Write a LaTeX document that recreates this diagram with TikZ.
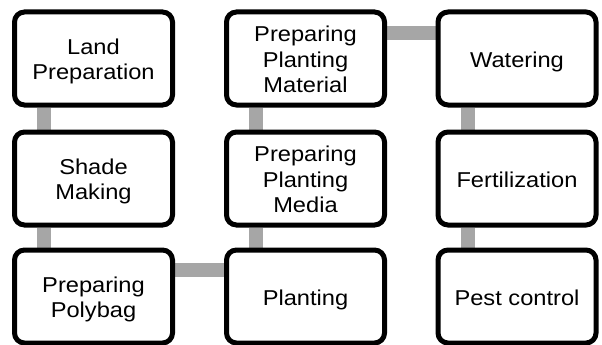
\documentclass[tikz,border=0pt]{standalone}
\usepackage{fontspec}
\usepackage{graphicx}
\setmainfont{Liberation Sans}
\usetikzlibrary{backgrounds}
\newcommand{\boxtext}[1]{\raisebox{-3.5pt}[\height][\depth]{\scalebox{1.1}[1]{\begin{tabular}{@{}c@{}}#1\end{tabular}}}}
\begin{document}
\begin{tikzpicture}[x=1pt,y=-1pt,
  box/.style={draw=black,line width=5pt,fill=white,rounded corners=10pt,
    minimum width=158pt,minimum height=93pt,align=center,inner sep=0pt,
    font=\fontsize{21.5}{25.5}\selectfont},
  conn/.style={draw={rgb,255:red,166;green,166;blue,166},line width=14pt}]
\useasboundingbox (0,0) rectangle (602,345);
\node[box] (a) at (93.5,58.5) {\boxtext{Land\\Preparation}};
\node[box] (b) at (93.5,178.5) {\boxtext{Shade\\Making}};
\node[box] (c) at (93.5,296.5) {\boxtext{Preparing\\Polybag}};
\node[box] (d) at (305.5,296.5) {\boxtext{Planting}};
\node[box] (e) at (305.5,178.5) {\boxtext{Preparing\\Planting\\Media}};
\node[box] (f) at (305.5,58.5) {\boxtext{Preparing\\Planting\\Material}};
\node[box] (g) at (517,58.5) {\boxtext{Watering}};
\node[box] (h) at (517,178.5) {\boxtext{Fertilization}};
\node[box] (i) at (517,296.5) {\boxtext{Pest control}};
\begin{scope}[on background layer]
\draw[conn] ([xshift=32pt]a.south west) -- ([xshift=32pt]b.north west);
\draw[conn] ([xshift=32pt]b.south west) -- ([xshift=32pt]c.north west);
\draw[conn] ([yshift=-22pt]c.north east) -- ([yshift=-22pt]d.north west);
\draw[conn] ([xshift=32pt]d.north west) -- ([xshift=32pt]e.south west);
\draw[conn] ([xshift=32pt]e.north west) -- ([xshift=32pt]f.south west);
\draw[conn] ([yshift=-24pt]f.north east) -- ([yshift=-24pt]g.north west);
\draw[conn] ([xshift=32pt]g.south west) -- ([xshift=32pt]h.north west);
\draw[conn] ([xshift=32pt]h.south west) -- ([xshift=32pt]i.north west);
\end{scope}
\end{tikzpicture}
\end{document}
